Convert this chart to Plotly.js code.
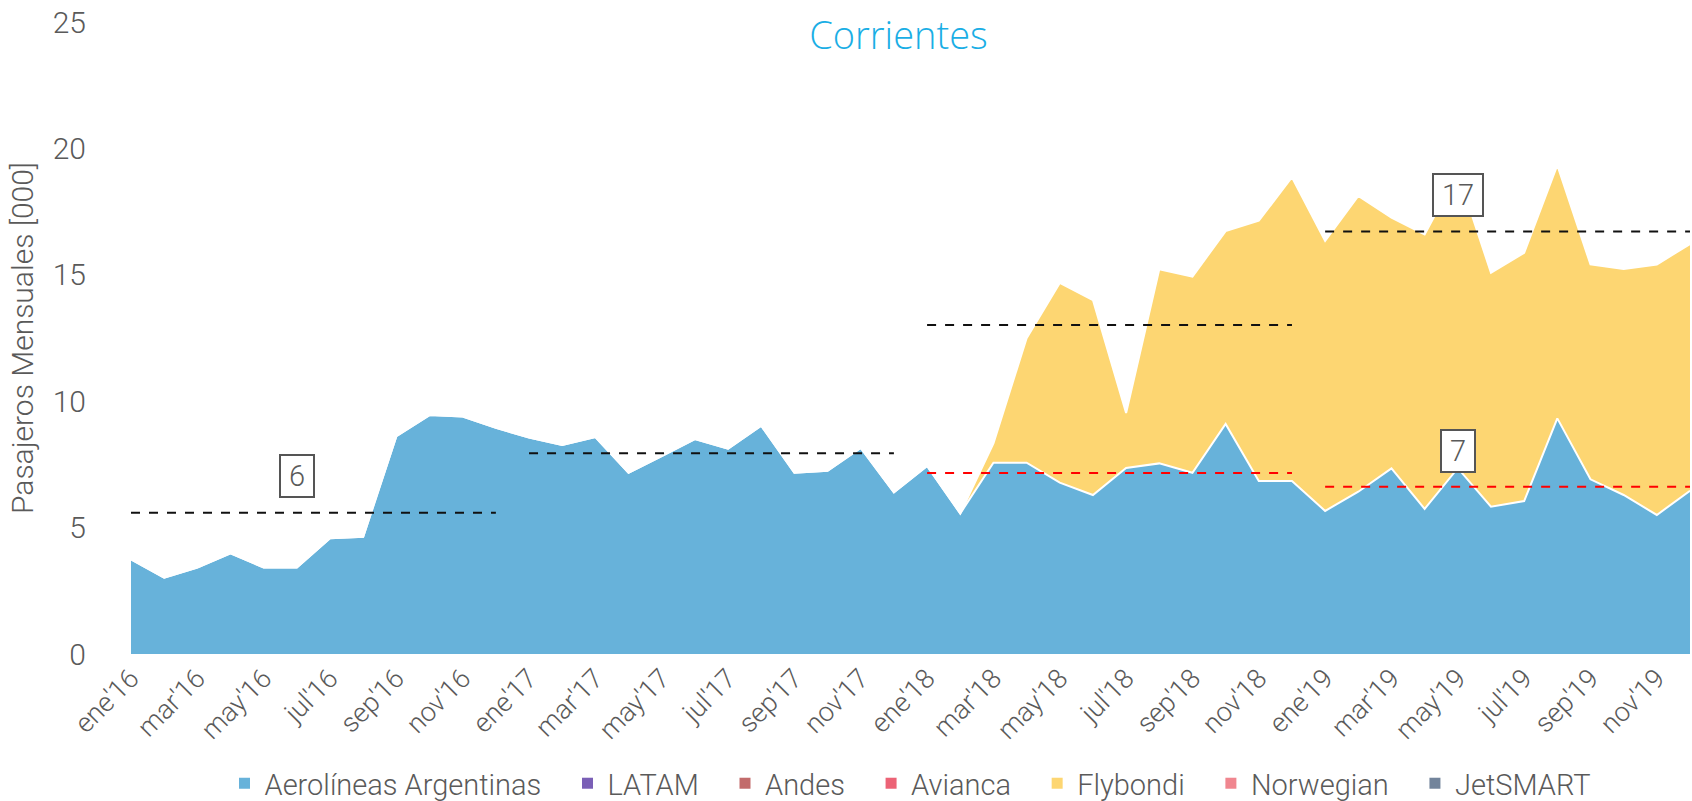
<!DOCTYPE html>
<html>
<head>
<meta charset="utf-8">
<script src="https://cdn.plot.ly/plotly-3.0.1.min.js"></script>
<style>
  html, body { margin: 0; padding: 0; background: #fff; }
  #grafico { width: 1692px; height: 801px; }
</style>
</head>
<body>
<div id="grafico"></div>
<script>
// meses y años del eje x
var meses = ['ene', 'feb', 'mar', 'abr', 'may', 'jun', 'jul', 'ago', 'sep', 'oct', 'nov', 'dic'];
var anios = ['16', '17', '18', '19'];

// pasajeros mensuales [000]
var aerolineas = [
  3.74, 3.02, 3.42, 3.98, 3.42, 3.42, 4.58, 4.64, 8.62, 9.45, 9.39, 8.95,
  8.56, 8.27, 8.58, 7.17, 7.83, 8.50, 8.12, 9.03, 7.17, 7.25, 8.15, 6.40,
  7.44, 5.56, 7.57, 7.57, 6.78, 6.29, 7.36, 7.54, 7.17, 9.10, 6.84, 6.84,
  5.66, 6.42, 7.34, 5.74, 7.35, 5.83, 6.05, 9.32, 6.91, 6.29, 5.50, 6.46
];
// Flybondi desde feb'18
var flybondi = [
  0, 0.76, 4.92, 7.90, 7.71, 2.17, 7.68, 7.76, 7.63, 10.30, 12.02,
  10.68, 11.70, 9.92, 10.86, 11.70, 9.25, 9.82, 10.02, 8.50, 8.94, 9.91, 9.76
];
var inicioFlybondi = 25;

// promedios anuales
var promTotal = [5.59, 7.94, 13.01, 16.71];
var promAerolineas = [null, null, 7.16, 6.62];

// etiquetas de promedio
var etiqTexto = ['6', '17', '7'];
var etiqMes = [5, 40, 40];
var etiqValor = [7.04, 18.17, 8.02];

var empresas = ['Aerolíneas Argentinas', 'LATAM', 'Andes', 'Avianca', 'Flybondi', 'Norwegian', 'JetSMART'];
var colores = ['#67b2da', '#7a5fb6', '#c26b6b', '#ec6376', '#fdd672', '#f0868f', '#72849b'];

var fechas = [];
for (var a = 0; a < anios.length; a++) {
  for (var m = 0; m < meses.length; m++) {
    fechas.push(meses[m] + "'" + anios[a]);
  }
}
var ticks = fechas.filter(function (f, i) { return i % 2 == 0; });

var fuente = 'Roboto, "Open Sans", sans-serif';
var gris = '#5a5a5a';

var data = [];
data.push({
  x: fechas,
  y: aerolineas,
  type: 'scatter',
  mode: 'lines',
  stackgroup: 'uno',
  fillcolor: colores[0],
  line: {color: '#ffffff', width: 2},
  showlegend: false,
  hoverinfo: 'x+y'
});
data.push({
  x: fechas.slice(inicioFlybondi),
  y: flybondi,
  type: 'scatter',
  mode: 'lines',
  stackgroup: 'uno',
  fillcolor: colores[4],
  line: {color: '#ffffff', width: 2},
  showlegend: false,
  hoverinfo: 'x+y'
});

// lineas de promedio por año
for (var k = 0; k < anios.length; k++) {
  var xs = [fechas[k * 12], fechas[k * 12 + 11]];
  data.push({
    x: xs, y: [promTotal[k], promTotal[k]],
    type: 'scatter', mode: 'lines',
    line: {color: '#111111', width: 2, dash: 'dash'},
    showlegend: false, hoverinfo: 'skip'
  });
  if (promAerolineas[k] != null) {
    data.push({
      x: xs, y: [promAerolineas[k], promAerolineas[k]],
      type: 'scatter', mode: 'lines',
      line: {color: '#ff0000', width: 2, dash: 'dash'},
      showlegend: false, hoverinfo: 'skip'
    });
  }
}

// leyenda (con espacio extra entre items)
for (var e = 0; e < empresas.length; e++) {
  data.push({
    x: [null], y: [null],
    type: 'scatter', mode: 'markers',
    name: empresas[e] + (e < empresas.length - 1 ? '\u00a0\u00a0\u00a0' : ''),
    marker: {symbol: 'square', size: 11, color: colores[e]}
  });
}

var anotaciones = etiqTexto.map(function (t, i) {
  return {
    x: fechas[etiqMes[i]], y: etiqValor[i],
    text: t, showarrow: false,
    font: {family: fuente, size: 29, color: gris},
    bgcolor: '#ffffff', bordercolor: '#555555', borderwidth: 2, borderpad: 3,
    width: t.length > 1 ? 42 : 26, height: 34
  };
});

var layout = {
  width: 1692,
  height: 801,
  margin: {l: 131, r: 2, t: 22, b: 147},
  paper_bgcolor: '#ffffff',
  plot_bgcolor: '#ffffff',
  font: {family: fuente, color: gris, weight: 300},
  title: {
    text: 'Corrientes',
    font: {family: '"Open Sans", Lato, sans-serif', size: 38, color: '#1aaee5'},
    xref: 'container', yref: 'container',
    x: 0.531, y: 0.955, xanchor: 'center', yanchor: 'middle'
  },
  xaxis: {
    type: 'category',
    range: [0, 47],
    tickmode: 'array',
    tickvals: ticks,
    ticktext: ticks,
    tickangle: -45,
    tickfont: {size: 27, color: gris, weight: 300},
    showgrid: false, zeroline: false, showline: false,
    ticks: '', ticklabelstandoff: 2
  },
  yaxis: {
    range: [0, 25],
    dtick: 5,
    tickfont: {size: 30, color: gris, weight: 300},
    showgrid: false, zeroline: false, showline: false,
    ticks: '', ticklabelstandoff: 44,
    title: {text: 'Pasajeros Mensuales [000]', font: {size: 30, color: gris, weight: 300}, standoff: 10}
  },
  showlegend: true,
  legend: {
    orientation: 'h',
    traceorder: 'normal',
    xref: 'paper', x: 0.5, xanchor: 'center',
    yref: 'container', y: 0.022, yanchor: 'middle',
    font: {size: 29, color: gris, weight: 300},
    itemwidth: 30,
    tracegroupgap: 0
  },
  annotations: anotaciones
};

Plotly.newPlot('grafico', data, layout, {displayModeBar: false, staticPlot: true});
</script>
</body>
</html>
